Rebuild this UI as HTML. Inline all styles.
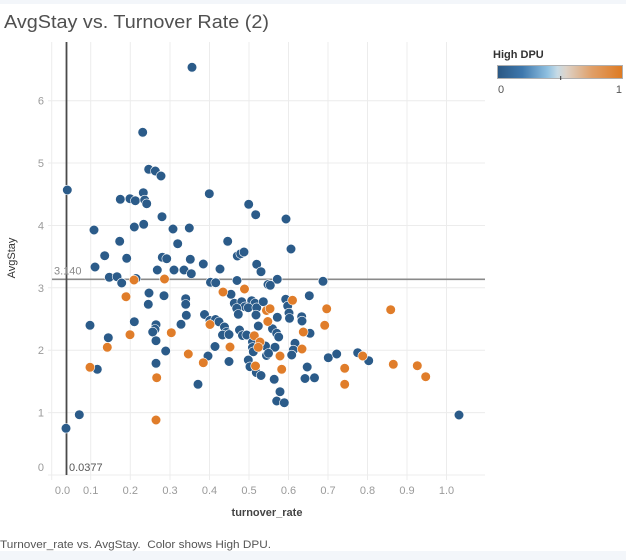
<!DOCTYPE html>
<html><head><meta charset="utf-8"><style>
html,body{margin:0;padding:0;background:#fff;}
svg{display:block;}
text{font-family:"Liberation Sans",sans-serif;}
</style></head><body>
<svg width="626" height="560" viewBox="0 0 626 560" xmlns="http://www.w3.org/2000/svg">
<defs>
<linearGradient id="lg" x1="0" x2="1" y1="0" y2="0">
<stop offset="0" stop-color="#2a5783"/>
<stop offset="0.2" stop-color="#3f78ad"/>
<stop offset="0.4" stop-color="#8fc0e0"/>
<stop offset="0.48" stop-color="#c7dbe6"/>
<stop offset="0.55" stop-color="#ddd3c8"/>
<stop offset="0.75" stop-color="#e0a06a"/>
<stop offset="1" stop-color="#de7a22"/>
</linearGradient>
</defs>
<rect x="0" y="0" width="626" height="4" fill="#f3f6fa"/>
<rect x="0" y="551" width="626" height="9" fill="#f3f6fa"/>
<text x="4" y="28" font-size="18" fill="#505050" textLength="265" lengthAdjust="spacingAndGlyphs">AvgStay vs. Turnover Rate (2)</text>
<g stroke="#ececec" stroke-width="1">
<line x1="51.7" y1="42" x2="51.7" y2="480"/>
<line x1="90.7" y1="42" x2="90.7" y2="480"/>
<line x1="130.3" y1="42" x2="130.3" y2="480"/>
<line x1="170" y1="42" x2="170" y2="480"/>
<line x1="209.5" y1="42" x2="209.5" y2="480"/>
<line x1="249" y1="42" x2="249" y2="480"/>
<line x1="288.5" y1="42" x2="288.5" y2="480"/>
<line x1="328" y1="42" x2="328" y2="480"/>
<line x1="367.5" y1="42" x2="367.5" y2="480"/>
<line x1="407" y1="42" x2="407" y2="480"/>
<line x1="446.5" y1="42" x2="446.5" y2="480"/>
<line x1="48" y1="100.7" x2="485" y2="100.7"/>
<line x1="48" y1="163" x2="485" y2="163"/>
<line x1="48" y1="225.5" x2="485" y2="225.5"/>
<line x1="48" y1="287.8" x2="485" y2="287.8"/>
<line x1="48" y1="350.2" x2="485" y2="350.2"/>
<line x1="48" y1="412.6" x2="485" y2="412.6"/>
<line x1="48" y1="475" x2="485" y2="475"/>
</g>
<g font-size="11" fill="#9a9a9a" text-anchor="end">
<text x="44" y="104.5">6</text>
<text x="44" y="167">5</text>
<text x="44" y="229.5">4</text>
<text x="44" y="292">3</text>
<text x="44" y="354">2</text>
<text x="44" y="416.5">1</text>
<text x="44" y="471">0</text>
</g>
<g font-size="11" fill="#9a9a9a" text-anchor="middle">
<text x="62.5" y="494">0.0</text>
<text x="90.7" y="494">0.1</text>
<text x="130.3" y="494">0.2</text>
<text x="170" y="494">0.3</text>
<text x="209.5" y="494">0.4</text>
<text x="249" y="494">0.5</text>
<text x="288.5" y="494">0.6</text>
<text x="328" y="494">0.7</text>
<text x="367.5" y="494">0.8</text>
<text x="407" y="494">0.9</text>
<text x="446.5" y="494">1.0</text>
</g>
<text x="267" y="516" font-size="11" font-weight="bold" fill="#444" text-anchor="middle">turnover_rate</text>
<text transform="translate(15,258) rotate(-90)" font-size="11" fill="#333" text-anchor="middle">AvgStay</text>
<line x1="52" y1="279.3" x2="485" y2="279.3" stroke="#8a8a8a" stroke-width="1.6"/>
<line x1="66.5" y1="42" x2="66.5" y2="475" stroke="#4a4a4a" stroke-width="1.8"/>
<text x="54" y="274.5" font-size="11" fill="#8a8a8a">3.140</text>
<text x="69" y="471" font-size="11" fill="#555">0.0377</text>
<g fill="#2b5b89" stroke="#fff" stroke-width="0.6">
<circle cx="192" cy="67.3" r="4.8"/>
<circle cx="142.7" cy="132.3" r="4.8"/>
<circle cx="148.7" cy="169.3" r="4.8"/>
<circle cx="155.3" cy="171" r="4.8"/>
<circle cx="161" cy="176" r="4.8"/>
<circle cx="67.3" cy="190" r="4.8"/>
<circle cx="209.3" cy="193.7" r="4.8"/>
<circle cx="143.3" cy="192.7" r="4.8"/>
<circle cx="120.3" cy="199.3" r="4.8"/>
<circle cx="130" cy="198.7" r="4.8"/>
<circle cx="135.3" cy="200.7" r="4.8"/>
<circle cx="144.7" cy="200" r="4.8"/>
<circle cx="146.7" cy="203.7" r="4.8"/>
<circle cx="248.7" cy="204.3" r="4.8"/>
<circle cx="255.7" cy="214.7" r="4.8"/>
<circle cx="286" cy="219" r="4.8"/>
<circle cx="162" cy="216.7" r="4.8"/>
<circle cx="94" cy="230" r="4.8"/>
<circle cx="134.3" cy="227" r="4.8"/>
<circle cx="143.7" cy="224.3" r="4.8"/>
<circle cx="173" cy="229" r="4.8"/>
<circle cx="189.3" cy="228" r="4.8"/>
<circle cx="119.7" cy="241.3" r="4.8"/>
<circle cx="177.7" cy="243.7" r="4.8"/>
<circle cx="227.7" cy="241.3" r="4.8"/>
<circle cx="291" cy="249" r="4.8"/>
<circle cx="104.7" cy="255.7" r="4.8"/>
<circle cx="126.7" cy="258.3" r="4.8"/>
<circle cx="162.3" cy="257.3" r="4.8"/>
<circle cx="166.7" cy="258.7" r="4.8"/>
<circle cx="190.3" cy="259.3" r="4.8"/>
<circle cx="237.3" cy="256" r="4.8"/>
<circle cx="240.7" cy="253.7" r="4.8"/>
<circle cx="244" cy="252" r="4.8"/>
<circle cx="256.7" cy="264.3" r="4.8"/>
<circle cx="261" cy="271.7" r="4.8"/>
<circle cx="203.3" cy="264" r="4.8"/>
<circle cx="95" cy="267" r="4.8"/>
<circle cx="157.3" cy="270" r="4.8"/>
<circle cx="174" cy="270" r="4.8"/>
<circle cx="184" cy="270" r="4.8"/>
<circle cx="191.3" cy="273.7" r="4.8"/>
<circle cx="220" cy="269" r="4.8"/>
<circle cx="109.3" cy="277.3" r="4.8"/>
<circle cx="117" cy="276.7" r="4.8"/>
<circle cx="121.7" cy="283" r="4.8"/>
<circle cx="136" cy="278.5" r="4.8"/>
<circle cx="210.5" cy="282.3" r="4.8"/>
<circle cx="215.7" cy="282.7" r="4.8"/>
<circle cx="237" cy="280.5" r="4.8"/>
<circle cx="268" cy="284.5" r="4.8"/>
<circle cx="277.3" cy="279.3" r="4.8"/>
<circle cx="270.3" cy="285.3" r="4.8"/>
<circle cx="323" cy="281.3" r="4.8"/>
<circle cx="309.3" cy="295.7" r="4.8"/>
<circle cx="285.7" cy="299.3" r="4.8"/>
<circle cx="287.7" cy="306" r="4.8"/>
<circle cx="289" cy="313" r="4.8"/>
<circle cx="289.5" cy="318.3" r="4.8"/>
<circle cx="149" cy="293" r="4.8"/>
<circle cx="148.3" cy="304.3" r="4.8"/>
<circle cx="164" cy="295.7" r="4.8"/>
<circle cx="185.7" cy="298.7" r="4.8"/>
<circle cx="185.7" cy="304.3" r="4.8"/>
<circle cx="231" cy="294.3" r="4.8"/>
<circle cx="234.3" cy="303.3" r="4.8"/>
<circle cx="241.7" cy="301.7" r="4.8"/>
<circle cx="245" cy="306.7" r="4.8"/>
<circle cx="236.7" cy="308.3" r="4.8"/>
<circle cx="238.3" cy="314.3" r="4.8"/>
<circle cx="251.7" cy="300.7" r="4.8"/>
<circle cx="255" cy="303.3" r="4.8"/>
<circle cx="248.3" cy="307.7" r="4.8"/>
<circle cx="256.7" cy="307.7" r="4.8"/>
<circle cx="263.3" cy="301.7" r="4.8"/>
<circle cx="277.3" cy="317.3" r="4.8"/>
<circle cx="301.7" cy="316.7" r="4.8"/>
<circle cx="302" cy="321" r="4.8"/>
<circle cx="256" cy="315" r="4.8"/>
<circle cx="258.3" cy="326" r="4.8"/>
<circle cx="310" cy="333.3" r="4.8"/>
<circle cx="186.3" cy="315.3" r="4.8"/>
<circle cx="181" cy="324.3" r="4.8"/>
<circle cx="204.5" cy="314.5" r="4.8"/>
<circle cx="210" cy="320.5" r="4.8"/>
<circle cx="215.5" cy="319.5" r="4.8"/>
<circle cx="219" cy="321.8" r="4.8"/>
<circle cx="90" cy="325.3" r="4.8"/>
<circle cx="134.3" cy="321.7" r="4.8"/>
<circle cx="156" cy="324.7" r="4.8"/>
<circle cx="155" cy="329.3" r="4.8"/>
<circle cx="152.7" cy="332" r="4.8"/>
<circle cx="108.3" cy="337.7" r="4.8"/>
<circle cx="156" cy="340.7" r="4.8"/>
<circle cx="165.7" cy="351" r="4.8"/>
<circle cx="224.5" cy="327" r="4.8"/>
<circle cx="226.5" cy="332.3" r="4.8"/>
<circle cx="222.5" cy="335" r="4.8"/>
<circle cx="229" cy="334.5" r="4.8"/>
<circle cx="239.5" cy="330" r="4.8"/>
<circle cx="242.5" cy="335.5" r="4.8"/>
<circle cx="246.7" cy="335" r="4.8"/>
<circle cx="272.5" cy="328.8" r="4.8"/>
<circle cx="276.7" cy="333.3" r="4.8"/>
<circle cx="278.7" cy="337" r="4.8"/>
<circle cx="252.5" cy="342" r="4.8"/>
<circle cx="252.5" cy="347.5" r="4.8"/>
<circle cx="265.5" cy="346" r="4.8"/>
<circle cx="275" cy="347.2" r="4.8"/>
<circle cx="295" cy="343.3" r="4.8"/>
<circle cx="293.3" cy="350" r="4.8"/>
<circle cx="291.7" cy="355" r="4.8"/>
<circle cx="266.5" cy="355.5" r="4.8"/>
<circle cx="268.5" cy="353.3" r="4.8"/>
<circle cx="215" cy="346.5" r="4.8"/>
<circle cx="208" cy="356" r="4.8"/>
<circle cx="229" cy="361.5" r="4.8"/>
<circle cx="248.3" cy="360" r="4.8"/>
<circle cx="250" cy="366.7" r="4.8"/>
<circle cx="256.3" cy="372.5" r="4.8"/>
<circle cx="261" cy="375.5" r="4.8"/>
<circle cx="274.2" cy="379.3" r="4.8"/>
<circle cx="307.2" cy="367" r="4.8"/>
<circle cx="305" cy="378.5" r="4.8"/>
<circle cx="314.5" cy="377.8" r="4.8"/>
<circle cx="328.3" cy="357.7" r="4.8"/>
<circle cx="336.7" cy="354" r="4.8"/>
<circle cx="357.7" cy="352.7" r="4.8"/>
<circle cx="368.7" cy="360.7" r="4.8"/>
<circle cx="280" cy="391.7" r="4.8"/>
<circle cx="276.7" cy="401" r="4.8"/>
<circle cx="284.3" cy="402.7" r="4.8"/>
<circle cx="459" cy="415" r="4.8"/>
<circle cx="198" cy="384.3" r="4.8"/>
<circle cx="156" cy="363.3" r="4.8"/>
<circle cx="97.3" cy="369.3" r="4.8"/>
<circle cx="79.3" cy="414.7" r="4.8"/>
<circle cx="66" cy="428.3" r="4.8"/>
<circle cx="253.3" cy="351.7" r="4.8"/>
</g>
<g fill="#e07d2a" stroke="#fff" stroke-width="0.6">
<circle cx="134" cy="280" r="4.8"/>
<circle cx="164.5" cy="279" r="4.8"/>
<circle cx="126" cy="296.7" r="4.8"/>
<circle cx="223" cy="292" r="4.8"/>
<circle cx="244.5" cy="289" r="4.8"/>
<circle cx="171.3" cy="332.7" r="4.8"/>
<circle cx="130" cy="334.7" r="4.8"/>
<circle cx="107.3" cy="347.3" r="4.8"/>
<circle cx="188.3" cy="354" r="4.8"/>
<circle cx="210" cy="324.5" r="4.8"/>
<circle cx="203.3" cy="362.7" r="4.8"/>
<circle cx="90" cy="367.3" r="4.8"/>
<circle cx="156.7" cy="377.7" r="4.8"/>
<circle cx="156" cy="420" r="4.8"/>
<circle cx="230" cy="347" r="4.8"/>
<circle cx="254.3" cy="335.7" r="4.8"/>
<circle cx="260" cy="342" r="4.8"/>
<circle cx="258.3" cy="347.3" r="4.8"/>
<circle cx="266.5" cy="310.5" r="4.8"/>
<circle cx="270" cy="308.7" r="4.8"/>
<circle cx="267.8" cy="321.5" r="4.8"/>
<circle cx="292.5" cy="300.3" r="4.8"/>
<circle cx="326.7" cy="308.8" r="4.8"/>
<circle cx="390.7" cy="309.7" r="4.8"/>
<circle cx="324.7" cy="325.3" r="4.8"/>
<circle cx="303.3" cy="332" r="4.8"/>
<circle cx="302" cy="349" r="4.8"/>
<circle cx="280" cy="356" r="4.8"/>
<circle cx="255.5" cy="366" r="4.8"/>
<circle cx="281.7" cy="369.3" r="4.8"/>
<circle cx="362.7" cy="356" r="4.8"/>
<circle cx="344.7" cy="368.3" r="4.8"/>
<circle cx="344.7" cy="384.3" r="4.8"/>
<circle cx="393.3" cy="364.3" r="4.8"/>
<circle cx="417.3" cy="365.7" r="4.8"/>
<circle cx="425.7" cy="376.7" r="4.8"/>
</g>
<text x="493" y="58" font-size="11" font-weight="bold" fill="#333">High DPU</text>
<rect x="497.5" y="65.5" width="125" height="13" fill="url(#lg)" stroke="#b0b0b0" stroke-width="1"/>
<line x1="560.7" y1="76" x2="560.7" y2="80" stroke="#333" stroke-width="1"/>
<text x="498" y="93" font-size="11" fill="#555">0</text>
<text x="622" y="93" font-size="11" fill="#555" text-anchor="end">1</text>
<line x1="460" y1="100.5" x2="484" y2="100.5" stroke="#f0f0f0" stroke-width="1"/>
<text x="0" y="548" font-size="11" fill="#555" xml:space="preserve" textLength="271" lengthAdjust="spacingAndGlyphs">Turnover_rate vs. AvgStay.  Color shows High DPU.</text>
</svg>
</body></html>
